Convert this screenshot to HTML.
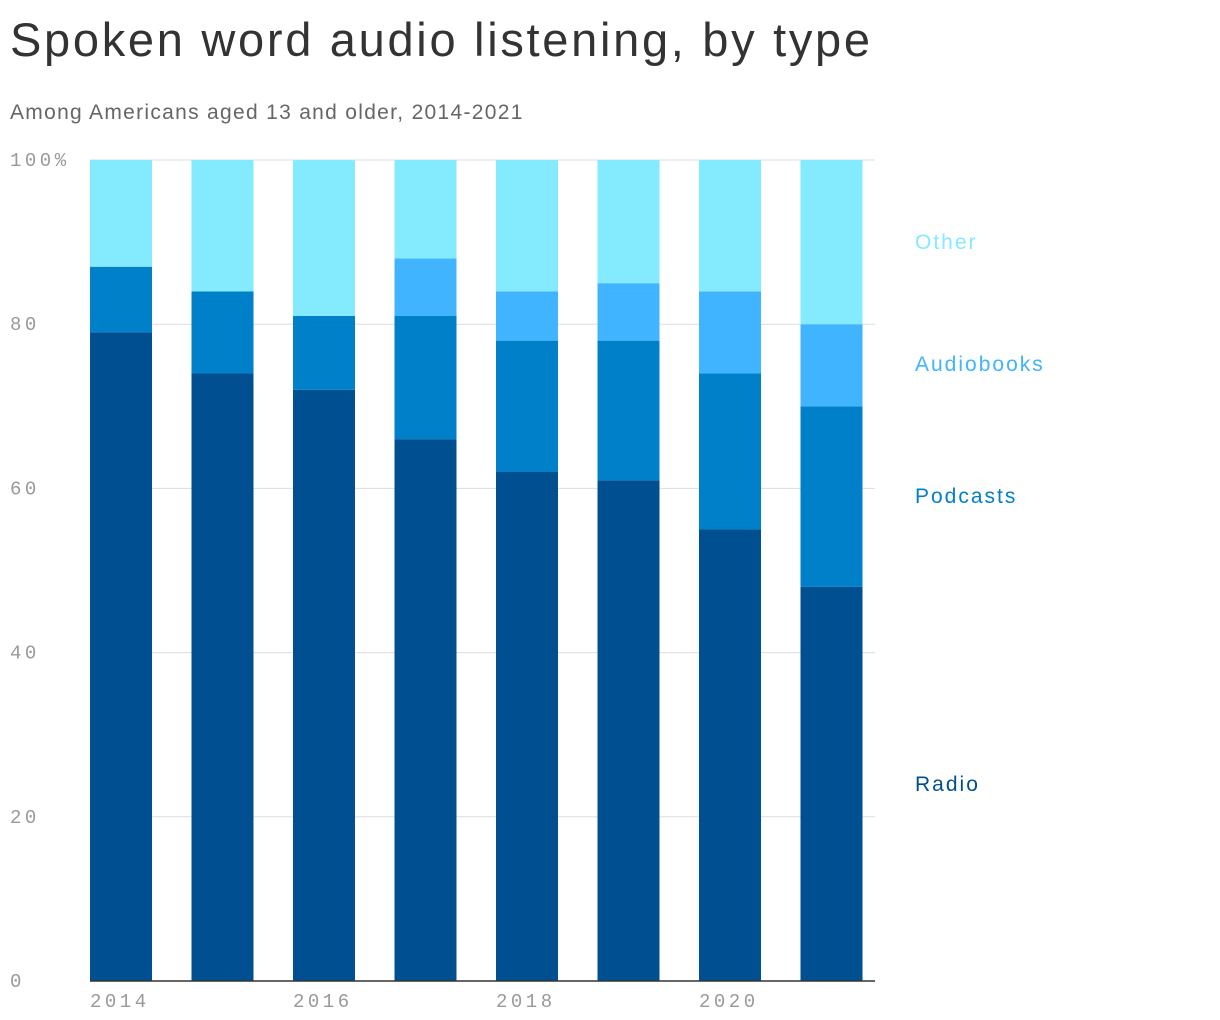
<!DOCTYPE html>
<html><head><meta charset="utf-8">
<style>
body{margin:0;background:#fff;width:1220px;height:1020px;overflow:hidden;font-family:"Liberation Sans",sans-serif;}
#title{position:absolute;left:10px;top:12px;font-size:47px;color:#333;letter-spacing:2.7px;margin:0;font-weight:normal}
#sub{position:absolute;left:10px;top:101px;font-size:21px;color:#666;margin:0;letter-spacing:1.3px}
svg{position:absolute;left:0;top:0}
</style></head><body>
<h1 id="title">Spoken word audio listening, by type</h1>
<p id="sub">Among Americans aged 13 and older, 2014-2021</p>
<svg id="chart" width="1220" height="1020"></svg>
<script>
const years=[2014,2015,2016,2017,2018,2019,2020,2021];
const radio=[79,74,72,66,62,61,55,48];
const podcasts=[8,10,9,15,16,17,19,22];
const audiobooks=[0,0,0,7,6,7,10,10];
const other=[13,16,19,12,16,15,16,20];
const yTicks=[0,20,40,60,80,100];
const xTickYears=[2014,2016,2018,2020];
const seriesNames=["Radio","Podcasts","Audiobooks","Other"];
const colors=["#005091","#0080c8","#40b4ff","#84eafd"];
const labelPos=[784,496,364,242];
const ns="http://www.w3.org/2000/svg";
const svg=document.getElementById('chart');
const y0=981,y1=160,xL=90,xR=875,step=101.5,bw=62;
const y=v=>y0-(v/100)*(y0-y1);
const x=i=>xL+i*step;
function mk(t,a){const e=document.createElementNS(ns,t);for(const k in a)e.setAttribute(k,a[k]);svg.appendChild(e);return e;}
yTicks.forEach(v=>{
  const l=mk('line',{x1:xL,x2:xR,y1:y(v),y2:y(v),stroke:'#ddd','stroke-width':1});
  
  
  const t=mk('text',{x:10,y:y(v)+6,'font-size':19,fill:'#999','font-family':'Liberation Mono, monospace','letter-spacing':3.5});
  t.textContent=v===100?'100%':String(v);
  
  
});
const all=[radio,podcasts,audiobooks,other];
years.forEach((yr,i)=>{
  let base=0;
  all.forEach((s,k)=>{
    const v=s[i];
    if(v>0){
      const r=mk('rect',{x:x(i),y:y(base+v),width:bw,height:y(base)-y(base+v),fill:colors[k]});
      
      
    }
    base+=v;
  });
});
const ax=mk('line',{x1:xL,x2:xR,y1:y0,y2:y0,stroke:'#333','stroke-width':1.5});


xTickYears.forEach(yr=>{
  const i=years.indexOf(yr);
  const t=mk('text',{x:x(i),y:1007,'font-size':19,fill:'#999','font-family':'Liberation Mono, monospace','letter-spacing':3.5});
  t.textContent=String(yr);
  
  
});
seriesNames.forEach((n,k)=>{
  const t=mk('text',{x:915,y:labelPos[k]+7,'font-size':21,fill:colors[k],'letter-spacing':2});
  t.textContent=n;
  
  
});
</script>
</body></html>
